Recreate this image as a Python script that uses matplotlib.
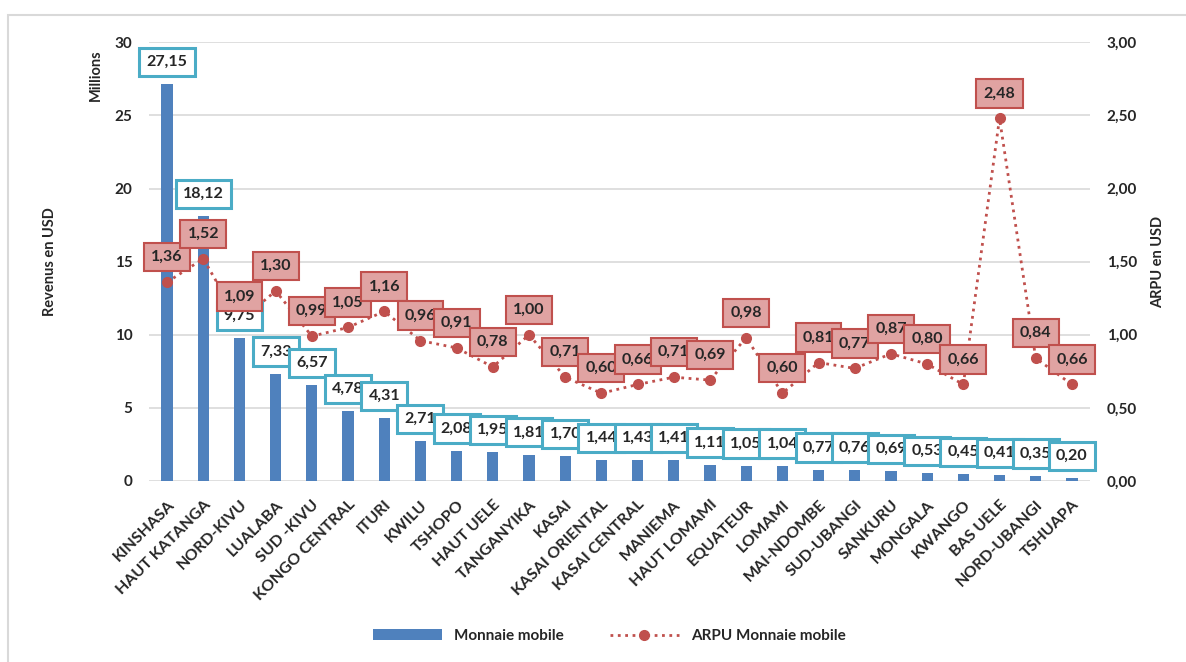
import matplotlib
matplotlib.use("Agg")
import matplotlib.pyplot as plt
from matplotlib.patches import Rectangle
import numpy as np

provinces = ["KINSHASA", "HAUT KATANGA", "NORD-KIVU", "LUALABA", "SUD -KIVU",
             "KONGO CENTRAL", "ITURI", "KWILU", "TSHOPO", "HAUT UELE",
             "TANGANYIKA", "KASAI", "KASAI ORIENTAL", "KASAI CENTRAL", "MANIEMA",
             "HAUT LOMAMI", "EQUATEUR", "LOMAMI", "MAI-NDOMBE", "SUD-UBANGI",
             "SANKURU", "MONGALA", "KWANGO", "BAS UELE", "NORD-UBANGI", "TSHUAPA"]
revenus = [27.15, 18.12, 9.75, 7.33, 6.57, 4.78, 4.31, 2.71, 2.08, 1.95,
           1.81, 1.70, 1.44, 1.43, 1.41, 1.11, 1.05, 1.04, 0.77, 0.76,
           0.69, 0.53, 0.45, 0.41, 0.35, 0.20]
arpu = [1.36, 1.52, 1.09, 1.30, 0.99, 1.05, 1.16, 0.96, 0.91, 0.78,
        1.00, 0.71, 0.60, 0.66, 0.71, 0.69, 0.98, 0.60, 0.81, 0.77,
        0.87, 0.80, 0.66, 2.48, 0.84, 0.66]
left_ticks = [0, 5, 10, 15, 20, 25, 30]
right_ticks = [0.0, 0.5, 1.0, 1.5, 2.0, 2.5, 3.0]

plt.rcParams['font.family'] = ['Lato', 'DejaVu Sans']
txt = '#262626'
bar_col = '#4F81BD'
red = '#C0504D'

def fr(v):
    return f"{v:.2f}".replace('.', ',')

fig = plt.figure(figsize=(11.86, 6.62), dpi=100)
ax = fig.add_axes([149/1186, 1-481/662, (1090-149)/1186, (481-42.3)/662])
ax2 = ax.twinx()

x = np.arange(len(provinces))
bars = ax.bar(x, revenus, width=0.31, color=bar_col, zorder=2, label='Monnaie mobile')
ax.set_xlim(-0.5, len(provinces)-0.5)
ax.set_ylim(0, 30)
ax.set_yticks(left_ticks)
ax.set_yticklabels([str(t) for t in left_ticks], fontsize=11, fontweight='bold', color=txt)
ax.grid(axis='y', color='#D9D9D9', lw=1.2, zorder=0)
ax.set_axisbelow(True)
for s in ax.spines.values():
    s.set_visible(False)
for s in ax2.spines.values():
    s.set_visible(False)
ax.tick_params(axis='both', length=0)
ax.tick_params(axis='y', pad=12)
ax.set_xticks(x)
ax.set_xticklabels(provinces, rotation=45, ha='right', rotation_mode='anchor',
                   fontsize=11.5, fontweight='bold', color=txt)
ax.tick_params(axis='x', pad=12)

line, = ax2.plot(x, arpu, color=red, ls=':', lw=2, marker='o', ms=7,
                 label='ARPU Monnaie mobile', zorder=3)
ax2.set_ylim(0, 3)
ax2.set_yticks(right_ticks)
ax2.set_yticklabels([fr(t) for t in right_ticks], fontsize=11, fontweight='bold', color=txt)
ax2.tick_params(axis='y', length=0, pad=12)

# bar labels sit above the ARPU line but below the ARPU labels
for i, v in enumerate(revenus):
    ax2.annotate(fr(v), (x[i], v), xycoords=ax.transData, xytext=(0, 16),
                 textcoords='offset points', ha='center', va='center',
                 fontsize=11.5, fontweight='bold', color=txt, zorder=4 + i * 0.01,
                 bbox=dict(boxstyle='square,pad=0.45', fc='white', ec='#4BACC6', lw=2.2))

for i, v in enumerate(arpu):
    ax2.annotate(fr(v), (x[i], v), xytext=(0, 18), textcoords='offset points',
                 ha='center', va='center', fontsize=11.5, fontweight='bold', color=txt,
                 zorder=5 + i * 0.01,
                 bbox=dict(boxstyle='square,pad=0.45', fc='#E0A3A2', ec=red, lw=1.5))

fig.text(50/1186, 1-262/662, "Revenus en USD", rotation=90, ha='center', va='center',
         fontsize=10.5, fontweight='bold', color=txt)
fig.text(96/1186, 1-75/662, "Millions", rotation=90, ha='center', va='center',
         fontsize=10.5, fontweight='bold', color=txt)
fig.text(1158/1186, 1-262/662, "ARPU en USD", rotation=90, ha='center', va='center',
         fontsize=10.5, fontweight='bold', color=txt)

fig.legend([bars, line], ['Monnaie mobile', 'ARPU Monnaie mobile'], loc='center',
           bbox_to_anchor=(0.514, 1-636/662), ncol=2, frameon=False,
           handlelength=4.5, columnspacing=3, prop=dict(size=11, weight='bold'),
           labelcolor=txt)

fig.patches.append(Rectangle((8/1186, -0.1), 1.2, 1.1 - 15/662, transform=fig.transFigure,
                             fill=False, ec='#D9D9D9', lw=1.5))

fig.savefig("out.png", dpi=100)
